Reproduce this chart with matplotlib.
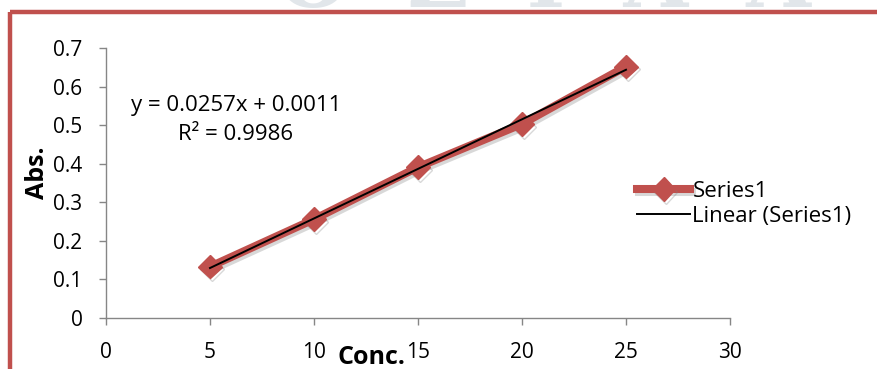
import numpy as np
import matplotlib
matplotlib.use("Agg")
import matplotlib.pyplot as plt
import matplotlib.patheffects as pe
from matplotlib.lines import Line2D

plt.rcParams['font.family'] = ['Open Sans', 'DejaVu Sans']

# calibration data
conc = [5, 10, 15, 20, 25]
absorbance = [0.133, 0.256, 0.391, 0.503, 0.652]
x_ticks = [0, 5, 10, 15, 20, 25, 30]
y_ticks = [0, 0.1, 0.2, 0.3, 0.4, 0.5, 0.6, 0.7]
series_name = "Series1"

# linear trend line coefficients and fit quality
trend_slope = 0.0257
trend_intercept = 0.0011
trend_r2 = 0.9986

RED = "#C0504D"
GREY = "#868686"

fig = plt.figure(figsize=(8.77, 3.69), dpi=100)
fig.patch.set_facecolor("white")

# faint watermark lettering at the very top edge
fig.text(0.62, 1 - 7 / 369, "O  Z  I  A  A", ha="center", va="baseline",
         fontsize=60, family="DejaVu Serif", fontweight="bold",
         color="#e1e6ea", zorder=0)

# red frame around the chart area (top and left edges)
fig.add_artist(Line2D([10 / 877, 1.0], [1 - 11.5 / 369, 1 - 11.5 / 369],
                      transform=fig.transFigure, color=RED, lw=3.2,
                      solid_capstyle="butt", zorder=5))
fig.add_artist(Line2D([10 / 877, 10 / 877], [0, 1 - 11.5 / 369],
                      transform=fig.transFigure, color=RED, lw=3.2,
                      solid_capstyle="butt", zorder=5))

ax = fig.add_axes([106 / 877, 1 - 318 / 369, 624 / 877, 270 / 369])
ax.set_xlim(0, 30)
ax.set_ylim(0, 0.7)

x = np.array(conc, dtype=float)
y = np.array(absorbance, dtype=float)

shadow = [pe.SimpleLineShadow(offset=(1.5, -2), shadow_color="#808080", alpha=0.3),
          pe.Normal()]
ax.plot(x, y, color=RED, lw=5.8, marker="D", ms=12, mfc=RED, mec=RED,
        label=series_name, path_effects=shadow, solid_joinstyle="round", zorder=3,
        clip_on=False)

fit = trend_slope * x + trend_intercept
ax.plot(x, fit, color="black", lw=1.4, label=f"Linear ({series_name})", zorder=4)

ax.text((236 - 106) / 624 * 30, (318 - 120) / 270 * 0.7,
        f"y = {trend_slope:.4f}x + {trend_intercept:.4f}\nR² = {trend_r2:.4f}",
        ha="center", va="center", fontsize=16, linespacing=1.45)

for s in ["top", "right"]:
    ax.spines[s].set_visible(False)
for s in ["left", "bottom"]:
    ax.spines[s].set_color(GREY)
    ax.spines[s].set_linewidth(1.0)

ax.set_xticks(x_ticks)
ax.set_yticks(y_ticks)
ax.set_xticklabels([str(t) for t in x_ticks])
ax.set_yticklabels([f"{t:g}" for t in y_ticks])
ax.tick_params(axis="both", direction="out", color=GREY, length=5, width=1,
               labelsize=15, labelcolor="black")
ax.tick_params(axis="x", pad=12)
ax.tick_params(axis="y", pad=12)

fig.text(371 / 877, 1 - 357 / 369, "Conc.", ha="center", va="center",
         fontsize=18, fontweight="bold")
fig.text(38 / 877, 1 - 173 / 369, "Abs.", ha="center", va="center",
         rotation=90, fontsize=18, fontweight="bold")

leg = ax.legend(loc="center left", bbox_to_anchor=(628 / 877, 1 - 204 / 369),
                bbox_transform=fig.transFigure, frameon=False, fontsize=16,
                handlelength=2.4, handletextpad=0.1, labelspacing=0.2,
                borderaxespad=0)

fig.savefig("out.png", dpi=100, facecolor="white")
